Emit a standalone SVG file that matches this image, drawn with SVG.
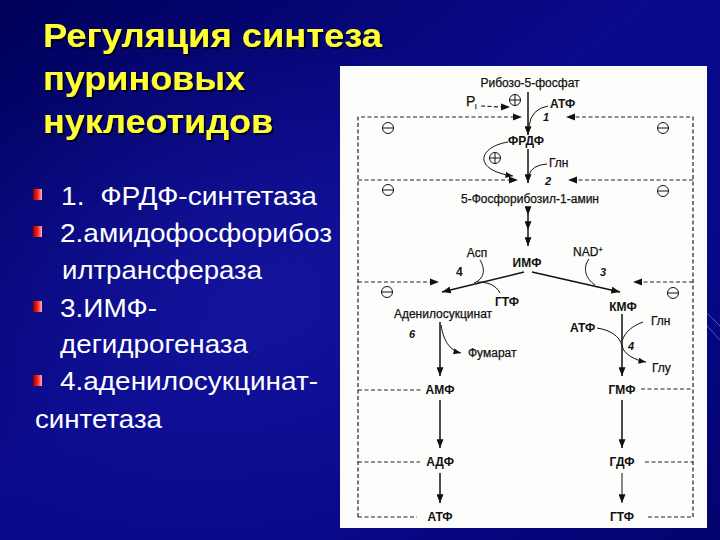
<svg xmlns="http://www.w3.org/2000/svg" width="720" height="540" viewBox="0 0 720 540">
<defs>
<linearGradient id="bg" x1="0" y1="0" x2="1" y2="1">
<stop offset="0" stop-color="#00005a"/>
<stop offset="0.45" stop-color="#0a0a8c"/>
<stop offset="0.7" stop-color="#08088a"/>
<stop offset="1" stop-color="#03036e"/>
</linearGradient>
<radialGradient id="glow" cx="0.35" cy="0.55" r="0.5">
<stop offset="0" stop-color="#1a1aa8" stop-opacity="0.6"/>
<stop offset="1" stop-color="#1a1aa8" stop-opacity="0"/>
</radialGradient>
<linearGradient id="bul" x1="0" y1="0" x2="1" y2="0">
<stop offset="0" stop-color="#8a0000"/>
<stop offset="0.5" stop-color="#ff2020"/>
<stop offset="1" stop-color="#ffb0b0"/>
</linearGradient>
<filter id="shadow" x="-5%" y="-20%" width="115%" height="150%">
<feOffset in="SourceAlpha" dx="2" dy="2" result="o"/>
<feFlood flood-color="#000020"/>
<feComposite in2="o" operator="in" result="s"/>
<feMerge><feMergeNode in="s"/><feMergeNode in="SourceGraphic"/></feMerge>
</filter>
<marker id="ah" viewBox="0 0 10 8" refX="10" refY="4" markerWidth="9" markerHeight="7" markerUnits="userSpaceOnUse" orient="auto">
<path d="M0,0 L10,4 L0,8 Z" fill="#111"/>
</marker>
<marker id="ahs" viewBox="0 0 10 8" refX="10" refY="4" markerWidth="8" markerHeight="6" markerUnits="userSpaceOnUse" orient="auto">
<path d="M0,0 L10,4 L0,8 Z" fill="#111"/>
</marker>
</defs>
<style>
.title{font-family:"Liberation Sans",Arial,sans-serif;font-weight:bold;font-size:34px;fill:#ffff33}
.item{font-family:"Liberation Sans",Arial,sans-serif;font-size:25px;fill:#ffffff;white-space:pre}
.lbl{font-family:"Liberation Sans",Arial,sans-serif;font-size:12px;fill:#111;stroke:#111;stroke-width:0.25}
.b{font-weight:bold;stroke-width:0}
.mid{text-anchor:middle}
.num{font-family:"Liberation Sans",Arial,sans-serif;font-size:11px;font-weight:bold;font-style:italic;fill:#111}
.dash{stroke:#222;stroke-width:1.2;stroke-dasharray:4 2.5;fill:none}
.sol{stroke:#111;stroke-width:1.5;fill:none}
.thin{stroke:#111;stroke-width:1;fill:none}
.sym{stroke:#111;stroke-width:1;fill:none}
</style>
<rect width="720" height="540" fill="url(#bg)"/>
<rect width="720" height="540" fill="url(#glow)"/>
<path d="M700,318 L720,340 M706,312 L720,326" stroke="#8a8ad8" stroke-width="1" opacity="0.6" fill="none"/>

<g id="title" filter="url(#shadow)">
<text class="title" x="43" y="47" textLength="339" lengthAdjust="spacingAndGlyphs">Регуляция синтеза</text>
<text class="title" x="43" y="90" textLength="202" lengthAdjust="spacingAndGlyphs">пуриновых</text>
<text class="title" x="43" y="133" textLength="230" lengthAdjust="spacingAndGlyphs">нуклеотидов</text>
</g>

<g id="list">
<rect x="33" y="189" width="9" height="11" fill="url(#bul)"/>
<rect x="33" y="226" width="9" height="11" fill="url(#bul)"/>
<rect x="33" y="301" width="9" height="11" fill="url(#bul)"/>
<rect x="33" y="375" width="9" height="11" fill="url(#bul)"/>
<text class="item" x="61" y="205" textLength="256" lengthAdjust="spacingAndGlyphs">1.  ФРДФ-синтетаза</text>
<text class="item" x="60" y="242" textLength="272" lengthAdjust="spacingAndGlyphs">2.амидофосфорибоз</text>
<text class="item" x="62" y="279" textLength="200" lengthAdjust="spacingAndGlyphs">илтрансфераза</text>
<text class="item" x="60" y="317" textLength="97" lengthAdjust="spacingAndGlyphs">3.ИМФ-</text>
<text class="item" x="60" y="353" textLength="188" lengthAdjust="spacingAndGlyphs">дегидрогеназа</text>
<text class="item" x="60" y="390" textLength="258" lengthAdjust="spacingAndGlyphs">4.аденилосукцинат-</text>
<text class="item" x="35" y="428" textLength="127" lengthAdjust="spacingAndGlyphs">синтетаза</text>
</g>

<rect id="panel" x="340" y="66" width="367" height="462" fill="#fdfdfb"/>

<g id="connectors">
<path class="dash" d="M358,517 L358,117 L515,117"/>
<path class="dash" d="M693,517 L693,117 L573,117"/>
<path class="dash" d="M358,180 L511,180"/>
<path class="dash" d="M693,180 L575,180"/>
<path class="dash" d="M358,282 L432,282"/>
<path class="dash" d="M693,282 L640,282"/>
<path class="dash" d="M358,390 L423,390"/>
<path class="dash" d="M641,389 L693,389"/>
<path class="dash" d="M358,462 L420,462"/>
<path class="dash" d="M645,462 L693,462"/>
<path class="dash" d="M358,517 L417,517"/>
<path class="dash" d="M648,517 L693,517"/>
<path d="M522,117 L513,113.5 L513,120.5 Z M566,117 L575,113.5 L575,120.5 Z M518,180 L509,176.5 L509,183.5 Z M568,180 L577,176.5 L577,183.5 Z M439,282 L430,278.5 L430,285.5 Z M633,282 L642,278.5 L642,285.5 Z" fill="#111"/>
<path class="dash" d="M481,106 L502,107"/>
<path d="M510,107 L501,103.5 L501,110.5 Z" fill="#111"/>
<path class="sol" d="M528,92 L528,135" marker-end="url(#ah)"/>
<path class="thin" d="M548,106 Q531,109 529,126"/>
<path class="sol" d="M528,149 L528,183" marker-end="url(#ah)"/>
<path class="thin" d="M508,142 C478,147 472,170 513,176" marker-end="url(#ahs)"/>
<path class="thin" d="M547,164 Q532,165 529,175"/>
<path class="sol" d="M528,207 L528,215 L528,230 L528,246" marker-mid="url(#ah)" marker-end="url(#ah)"/>
<path class="sol" d="M524,272 L442,292" marker-end="url(#ah)"/>
<path class="sol" d="M532,272 L620,292" marker-end="url(#ah)"/>
<path class="thin" d="M480,260 C486,270 484,279 474,283"/>
<path class="thin" d="M500,293 C496,285 488,282 477,282"/>
<path class="thin" d="M589,259 C582,268 586,279 595,285"/>
<path class="sol" d="M440,322 L440,376" marker-end="url(#ah)"/>
<path class="thin" d="M441,325 C444,344 452,351 461,353" marker-end="url(#ahs)"/>
<path class="sol" d="M622,314 L622,376" marker-end="url(#ah)"/>
<path class="thin" d="M597,328 C610,330 620,336 622,346 C624,354 634,360 646,362" marker-end="url(#ahs)"/>
<path class="thin" d="M643,322 C632,326 625,332 622,341"/>
<path class="sol" d="M440,400 L440,448" marker-end="url(#ah)"/>
<path class="sol" d="M440,473 L440,503" marker-end="url(#ah)"/>
<path class="sol" d="M622,400 L622,448" marker-end="url(#ah)"/>
<path class="thin" d="M622,473 L622,503" marker-end="url(#ah)"/>
</g>

<g id="symbols">
<g class="sym"><circle cx="515" cy="100" r="5.5"/><path d="M509.5,100 H520.5 M515,94.5 V105.5"/></g>
<g class="sym"><circle cx="495" cy="158" r="5.5"/><path d="M489.5,158 H500.5 M495,152.5 V163.5"/></g>
<g class="sym"><circle cx="388" cy="128" r="5.5"/><path d="M382.5,128 H393.5"/></g>
<g class="sym"><circle cx="663" cy="128" r="5.5"/><path d="M657.5,128 H668.5"/></g>
<g class="sym"><circle cx="388" cy="190" r="5.5"/><path d="M382.5,190 H393.5"/></g>
<g class="sym"><circle cx="663" cy="191" r="5.5"/><path d="M657.5,191 H668.5"/></g>
<g class="sym"><circle cx="387" cy="292" r="5.5"/><path d="M381.5,292 H392.5"/></g>
<g class="sym"><circle cx="673" cy="293" r="5.5"/><path d="M667.5,293 H678.5"/></g>
</g>

<g id="n-ribose"><text class="lbl mid" x="530" y="87">Рибозо-5-фосфат</text></g>
<g id="n-pi"><text class="lbl" x="466" y="106" style="font-size:14px">P</text><text class="lbl" x="475" y="109" style="font-size:7px">i</text></g>
<g id="n-atp1"><text class="lbl b" x="550" y="108">АТФ</text></g>
<g id="e1"><text class="num" x="543" y="121">1</text></g>
<g id="n-frdf"><text class="lbl b mid" x="526" y="145">ФРДФ</text></g>
<g id="n-gln1"><text class="lbl" x="549" y="167">Глн</text></g>
<g id="e2"><text class="num" x="545" y="185">2</text></g>
<g id="n-fra"><text class="lbl mid" x="530" y="203">5-Фосфорибозил-1-амин</text></g>
<g id="n-imf"><text class="lbl b mid" x="527" y="267">ИМФ</text></g>
<g id="n-asp"><text class="lbl mid" x="477" y="257">Асп</text></g>
<g id="e4a"><text class="lbl b" x="456" y="276">4</text></g>
<g id="n-gtf1"><text class="lbl b mid" x="507" y="306">ГТФ</text></g>
<g id="n-nad"><text class="lbl mid" x="588" y="256">NAD<tspan style="font-size:8px" dy="-4">+</tspan></text></g>
<g id="e3"><text class="num" x="600" y="276">3</text></g>
<g id="n-kmf"><text class="lbl b mid" x="623" y="311">КМФ</text></g>
<g id="n-adsucc"><text class="lbl mid" x="443" y="318">Аденилосукцинат</text></g>
<g id="e6"><text class="num" x="409" y="338">6</text></g>
<g id="n-fum"><text class="lbl" x="468" y="357">Фумарат</text></g>
<g id="n-atp2"><text class="lbl b" x="570" y="332">АТФ</text></g>
<g id="n-gln2"><text class="lbl" x="651" y="325">Глн</text></g>
<g id="e4b"><text class="num" x="628" y="350">4</text></g>
<g id="n-glu"><text class="lbl" x="652" y="372">Глу</text></g>
<g id="n-amf"><text class="lbl b mid" x="440" y="394">АМФ</text></g>
<g id="n-gmf"><text class="lbl b mid" x="622" y="394">ГМФ</text></g>
<g id="n-adf"><text class="lbl b mid" x="440" y="466">АДФ</text></g>
<g id="n-gdf"><text class="lbl b mid" x="622" y="466">ГДФ</text></g>
<g id="n-atp3"><text class="lbl b mid" x="440" y="521">АТФ</text></g>
<g id="n-gtf2"><text class="lbl b mid" x="622" y="521">ГТФ</text></g>
</svg>
